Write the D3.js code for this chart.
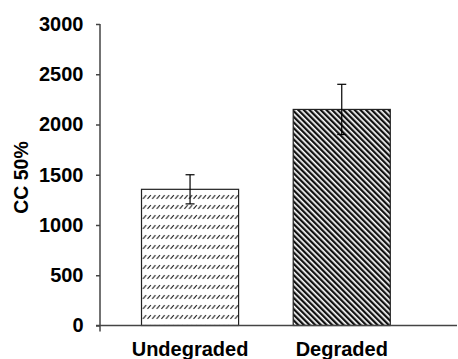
<!DOCTYPE html>
<html>
<head>
<meta charset="utf-8">
<script src="https://cdn.jsdelivr.net/npm/d3@7"></script>
<style>
  body { margin: 0; background: #fff; }
  text { font-family: "Liberation Sans", Arial, sans-serif; font-weight: bold; fill: #000; }
</style>
</head>
<body>
<div id="chart"></div>
<script>
// data
var categories = ["Undegraded", "Degraded"];
var means = [1355, 2150];
var errors = [145, 250];
var yTicks = [0, 500, 1000, 1500, 2000, 2500, 3000];

function init(){

    var w = 458;
    var h = 359;

    var svg = d3.select("#chart")
                .append("svg")
                .attr("width", w)
                .attr("height", h);

    var defs = svg.append("defs");

    // light dashed upward diagonal
    var p1 = defs.append("pattern")
                .attr("id", "dashUp")
                .attr("patternUnits", "userSpaceOnUse")
                .attr("width", 4.6)
                .attr("height", 10)
                .attr("y", 1);
    p1.append("line")
        .attr("x1", 0.4).attr("y1", 7.8)
        .attr("x2", 3.6).attr("y2", 4.2)
        .attr("stroke", "#222")
        .attr("stroke-width", 1.1);

    // dense downward diagonal
    var p2 = defs.append("pattern")
                .attr("id", "diagDown")
                .attr("patternUnits", "userSpaceOnUse")
                .attr("width", 4)
                .attr("height", 4)
                .attr("patternTransform", "rotate(-45)");
    p2.append("rect").attr("width", 4).attr("height", 4).attr("fill", "#fff");
    p2.append("rect").attr("width", 2.3).attr("height", 4).attr("fill", "#111");

    var fills = ["url(#dashUp)", "url(#diagDown)"];

    var y = d3.scaleLinear()
                .domain([0, 3000])
                .range([325.5, 24]);

    var x = d3.scaleBand()
                .domain(categories)
                .range([114.2, 417.6])
                .paddingInner(0.36)
                .paddingOuter(0.18);

    // bars
    svg.selectAll("rect.bar")
        .data(categories)
        .enter()
        .append("rect")
        .attr("class", "bar")
        .attr("x", function(d){ return x(d); })
        .attr("y", function(d, i){ return y(means[i]); })
        .attr("width", x.bandwidth())
        .attr("height", function(d, i){ return y(0) - y(means[i]); })
        .attr("fill", function(d, i){ return fills[i]; })
        .attr("stroke", "#222")
        .attr("stroke-width", 1.2);

    // error bars
    var eb = svg.selectAll("g.err")
        .data(categories)
        .enter()
        .append("g")
        .attr("class", "err")
        .attr("stroke", "#000")
        .attr("stroke-width", 1.2);

    eb.append("line")
        .attr("x1", function(d){ return x(d) + x.bandwidth()/2; })
        .attr("x2", function(d){ return x(d) + x.bandwidth()/2; })
        .attr("y1", function(d, i){ return y(means[i] - errors[i]); })
        .attr("y2", function(d, i){ return y(means[i] + errors[i]); });

    [-1, 1].forEach(function(s){
        eb.append("line")
            .attr("x1", function(d){ return x(d) + x.bandwidth()/2 - 4.5; })
            .attr("x2", function(d){ return x(d) + x.bandwidth()/2 + 4.5; })
            .attr("y1", function(d, i){ return y(means[i] + s*errors[i]); })
            .attr("y2", function(d, i){ return y(means[i] + s*errors[i]); });
    });

    // y axis
    var yAxis = svg.append("g")
        .attr("transform", "translate(100,0)")
        .call(d3.axisLeft(y).tickValues(yTicks).tickFormat(d3.format("d")).tickSize(4).tickPadding(12.5));
    yAxis.select(".domain").remove();
    yAxis.selectAll(".tick line").attr("stroke", "#444").attr("stroke-width", 1.5);
    yAxis.selectAll(".tick text")
        .style("font-size", "20px")
        .attr("fill", "#000");

    svg.append("line")
        .attr("x1", 100).attr("x2", 100)
        .attr("y1", y(3000)).attr("y2", y(0) + 6)
        .attr("stroke", "#444")
        .attr("stroke-width", 1.5);

    // x axis
    svg.append("line")
        .attr("x1", 96).attr("x2", 457)
        .attr("y1", y(0)).attr("y2", y(0))
        .attr("stroke", "#444")
        .attr("stroke-width", 1.5);

    var xAxis = svg.append("g")
        .attr("transform", "translate(0," + y(0) + ")")
        .call(d3.axisBottom(x).tickSize(0));
    xAxis.select(".domain").remove();
    xAxis.selectAll(".tick text")
        .attr("y", 30.5)
        .attr("dy", 0)
        .style("font-size", "20px")
        .attr("fill", "#000");

    // y title
    svg.append("text")
        .attr("transform", "translate(28,177.5) rotate(-90)")
        .attr("text-anchor", "middle")
        .style("font-size", "19.5px")
        .text("CC 50%");
}

window.onload = init;
</script>
</body>
</html>
